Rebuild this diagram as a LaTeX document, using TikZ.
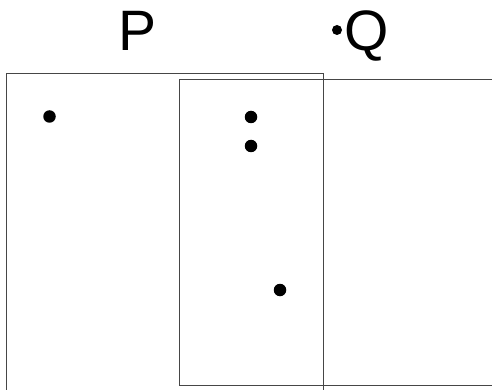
\documentclass[tikz,border=0pt]{standalone}
\usepackage{fontspec}
\setmainfont{Liberation Sans}
\usepackage{tikz}
\usepackage{xcolor}
\definecolor{linegray}{RGB}{70, 70, 70}

\begin{document}
\begin{tikzpicture}[x = 1pt, y = -1pt, line width = 1pt,
  setdot/.style = {circle, fill = black, inner sep = 0pt, minimum size = 12.5pt},
  setname/.style = {inner sep = 0pt, anchor = base west, font = \fontsize{57}{57}\selectfont}]
\useasboundingbox (0,0) rectangle (492,390);
\node[setname] (labelP) at (117.5,51) {P};
\node[setdot, minimum size = 10pt] (q) at (337,30) {};
\node[setname] (labelQ) at (343.5,51) {Q};
% set P, open at the bottom
\draw[linegray] (6,390) -- (6,74) -- (323,74) -- (323,390);
% set Q, open to the right
\draw[linegray] (492,80) -- (179,80) -- (179,385) -- (492,385);
\node[setdot] (a) at (49.5,116.5) {};
\node[setdot] (b) at (251,117) {};
\node[setdot] (c) at (251,146) {};
\node[setdot] (d) at (280,290) {};
\end{tikzpicture}
\end{document}
